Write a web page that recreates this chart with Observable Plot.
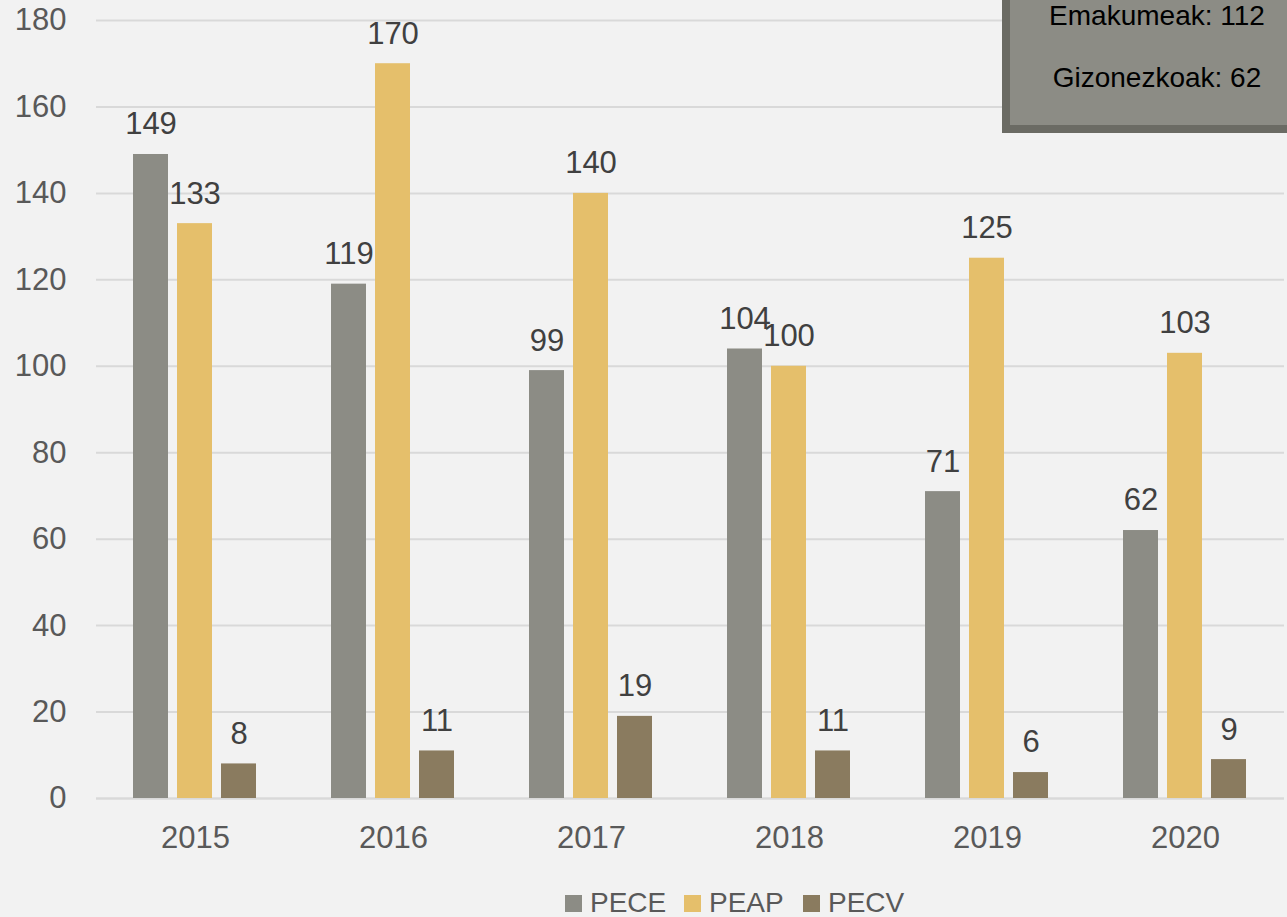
<!DOCTYPE html>
<html>
<head>
<meta charset="utf-8">
<script src="https://cdn.jsdelivr.net/npm/d3@7"></script>
<script src="https://cdn.jsdelivr.net/npm/@observablehq/plot@0.6"></script>
<style>
  html, body { margin: 0; padding: 0; background: #f2f2f2; overflow: hidden; width: 1287px; height: 917px; }
  body { position: relative; font-family: "Liberation Sans", Arial, sans-serif; }
  #legend { display: flex; padding-left: 565px; font-size: 28px; line-height: 28px; color: #595959; white-space: nowrap; }
  #legend .item { display: inline-block; width: 119px; }
  #legend .sw { display: inline-block; width: 17px; height: 17px; margin-right: 8px; vertical-align: baseline; }
  #note { position: absolute; left: 1002px; top: -40px; width: 310px; height: 173px; box-sizing: border-box;
          background: #8c8c85; border: 8px solid #6b6b64; color: #000; font-size: 28px; line-height: 28px; }
  #note div { position: absolute; left: 0; width: 294px; text-align: center; white-space: nowrap; }
</style>
</head>
<body>
<div id="chart"></div>
<div id="legend"></div>
<div id="note"><div style="top:34px">Emakumeak: 112</div><div style="top:96px">Gizonezkoak: 62</div></div>
<script>
const years = ["2015", "2016", "2017", "2018", "2019", "2020"];
const series = ["PECE", "PEAP", "PECV"];
const colors = ["#8c8c85", "#e5bf6b", "#8a7b5f"];
const pece = [149, 119, 99, 104, 71, 62];
const peap = [133, 170, 140, 100, 125, 103];
const pecv = [8, 11, 19, 11, 6, 9];
const yTicks = [0, 20, 40, 60, 80, 100, 120, 140, 160, 180];

const valuesBySeries = {PECE: pece, PEAP: peap, PECV: pecv};
const data = [];
years.forEach((yr, i) => series.forEach(s => data.push({year: yr, series: s, value: valuesBySeries[s][i]})));

const chart = Plot.plot({
  width: 1287,
  height: 889,
  marginTop: 20,
  marginBottom: 91,
  marginLeft: 96,
  marginRight: 3,
  style: {background: "#f2f2f2", fontFamily: "Liberation Sans, Arial, sans-serif", fontSize: "31px"},
  fx: {domain: years, paddingInner: 0, paddingOuter: 0, label: null},
  x: {domain: series, paddingInner: 0.2, paddingOuter: 0.85, axis: null},
  y: {domain: [0, 180], label: null},
  color: {domain: series, range: colors},
  marks: [
    Plot.gridY(yTicks, {stroke: "#d9d9d9", strokeOpacity: 1, strokeWidth: 2}),
    Plot.axisY(yTicks, {tickSize: 0, tickPadding: 30, fill: "#595959", fontSize: 31, label: null}),
    Plot.axisFx({anchor: "bottom", tickSize: 0, tickPadding: 27, fill: "#595959", fontSize: 31, label: null}),
    Plot.ruleY([0], {stroke: "#d9d9d9", strokeWidth: 2}),
    Plot.barY(data, {fx: "year", x: "series", y: "value", fill: "series"}),
    Plot.text(data, {fx: "year", x: "series", y: "value", text: d => String(d.value), dy: -30, fill: "#404040", fontSize: 31})
  ]
});
document.getElementById("chart").appendChild(chart);

const legend = document.getElementById("legend");
series.forEach((s, i) => {
  const item = document.createElement("span");
  item.className = "item";
  const sw = document.createElement("span");
  sw.className = "sw";
  sw.style.background = colors[i];
  item.appendChild(sw);
  item.appendChild(document.createTextNode(s));
  legend.appendChild(item);
});
</script>
</body>
</html>
